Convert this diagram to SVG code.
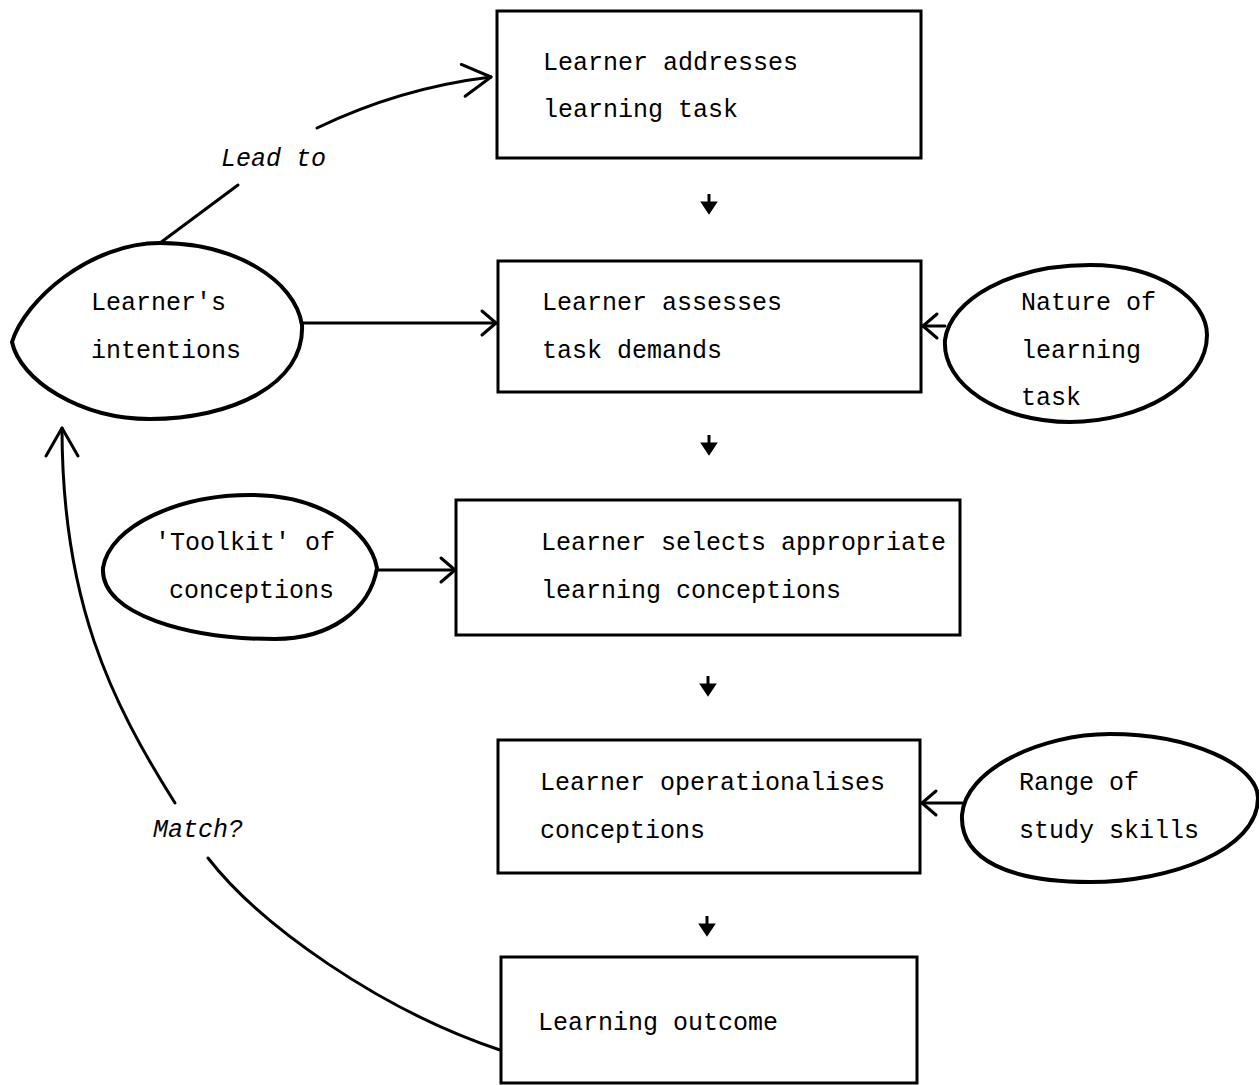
<svg xmlns="http://www.w3.org/2000/svg" width="1259" height="1085" viewBox="0 0 1259 1085">
<style>
.box{fill:none;stroke:#000;stroke-width:3}
.ell{fill:none;stroke:#000;stroke-width:4;stroke-linejoin:round}
.t{font-family:"Liberation Mono","Courier New",monospace;font-size:25px;fill:#000}
.it{font-style:italic}
.c{fill:none;stroke:#000;stroke-width:3;stroke-linecap:round}
.da{fill:#000;stroke:#000;stroke-width:3}
</style>
<defs>
<marker id="big" markerUnits="userSpaceOnUse" markerWidth="40" markerHeight="40" viewBox="-32 -20 36 40" refX="0" refY="0" orient="auto">
<path d="M-28,-16 L0,0 L-28,16" fill="none" stroke="#000" stroke-width="3" stroke-linecap="round" stroke-linejoin="round"/>
</marker>
<marker id="sm" markerUnits="userSpaceOnUse" markerWidth="30" markerHeight="30" viewBox="-20 -15 24 30" refX="0" refY="0" orient="auto">
<path d="M-14,-12 L0,0 L-14,12" fill="none" stroke="#000" stroke-width="3" stroke-linecap="round" stroke-linejoin="round"/>
</marker>
</defs>
<rect width="1259" height="1085" fill="#fff"/>

<g id="connectors">
<path class="c" d="M160,243 L238,185"/>
<path class="c" d="M317,128 Q400,88 491,77" marker-end="url(#big)"/>
<path class="c" d="M302,323 L496,323" marker-end="url(#sm)"/>
<path class="c" d="M945,326 L923,326" marker-end="url(#sm)"/>
<path class="c" d="M377,570 L455,570" marker-end="url(#sm)"/>
<path class="c" d="M962,803 L922,803" marker-end="url(#sm)"/>
<path class="c" d="M500,1050 C380,1010 260,925 208,858"/>
<path class="c" d="M175,803 C110,700 62,600 62,428" marker-end="url(#big)"/>
<g id="down-arrows">
<path class="da" d="M709,194 L709,204"/><path class="da" d="M703,203 L715,203 L709,212 Z"/>
<path class="da" d="M709,435 L709,445"/><path class="da" d="M703,444 L715,444 L709,453 Z"/>
<path class="da" d="M708,676 L708,686"/><path class="da" d="M702,685 L714,685 L708,694 Z"/>
<path class="da" d="M707,916 L707,926"/><path class="da" d="M701,925 L713,925 L707,934 Z"/>
</g>
<text class="t it" x="221" y="166">Lead to</text>
<text class="t it" x="153" y="837">Match?</text>
</g>

<g id="box1">
<rect class="box" x="497" y="11" width="424" height="147"/>
<text class="t" x="543" y="70">Learner addresses</text>
<text class="t" x="543" y="117">learning task</text>
</g>
<g id="box2">
<rect class="box" x="498" y="261" width="423" height="131"/>
<text class="t" x="542" y="310">Learner assesses</text>
<text class="t" x="542" y="358">task demands</text>
</g>
<g id="box3">
<rect class="box" x="456" y="500" width="504" height="135"/>
<text class="t" x="541" y="550">Learner selects appropriate</text>
<text class="t" x="541" y="598">learning conceptions</text>
</g>
<g id="box4">
<rect class="box" x="498" y="740" width="422" height="133"/>
<text class="t" x="540" y="790">Learner operationalises</text>
<text class="t" x="540" y="838">conceptions</text>
</g>
<g id="box5">
<rect class="box" x="501" y="957" width="416" height="126"/>
<text class="t" x="538" y="1030">Learning outcome</text>
</g>

<g id="intentions">
<path class="ell" d="M12,342 C25,300 90,243 160,243 C235,243 295,280 302,325 C305,385 230,419 150,419 C80,419 20,380 12,342 Z"/>
<text class="t" x="91" y="310">Learner's</text>
<text class="t" x="91" y="358">intentions</text>
</g>
<g id="nature">
<path class="ell" d="M945,340 C950,300 1010,265 1090,265 C1160,265 1207,300 1207,335 C1207,385 1140,422 1070,422 C1000,422 942,385 945,340 Z"/>
<text class="t" x="1021" y="310">Nature of</text>
<text class="t" x="1021" y="358">learning</text>
<text class="t" x="1021" y="405">task</text>
</g>
<g id="toolkit">
<path class="ell" d="M103,568 C110,525 180,495 250,495 C320,495 370,530 377,568 C370,610 330,639 275,639 C190,639 100,615 103,568 Z"/>
<text class="t" x="155" y="550">'Toolkit' of</text>
<text class="t" x="169" y="598">conceptions</text>
</g>
<g id="skills">
<path class="ell" d="M962,815 C965,770 1040,734 1110,734 C1190,734 1258,765 1258,798 C1258,850 1170,882 1090,882 C1010,882 960,860 962,815 Z"/>
<text class="t" x="1019" y="790">Range of</text>
<text class="t" x="1019" y="838">study skills</text>
</g>
</svg>
